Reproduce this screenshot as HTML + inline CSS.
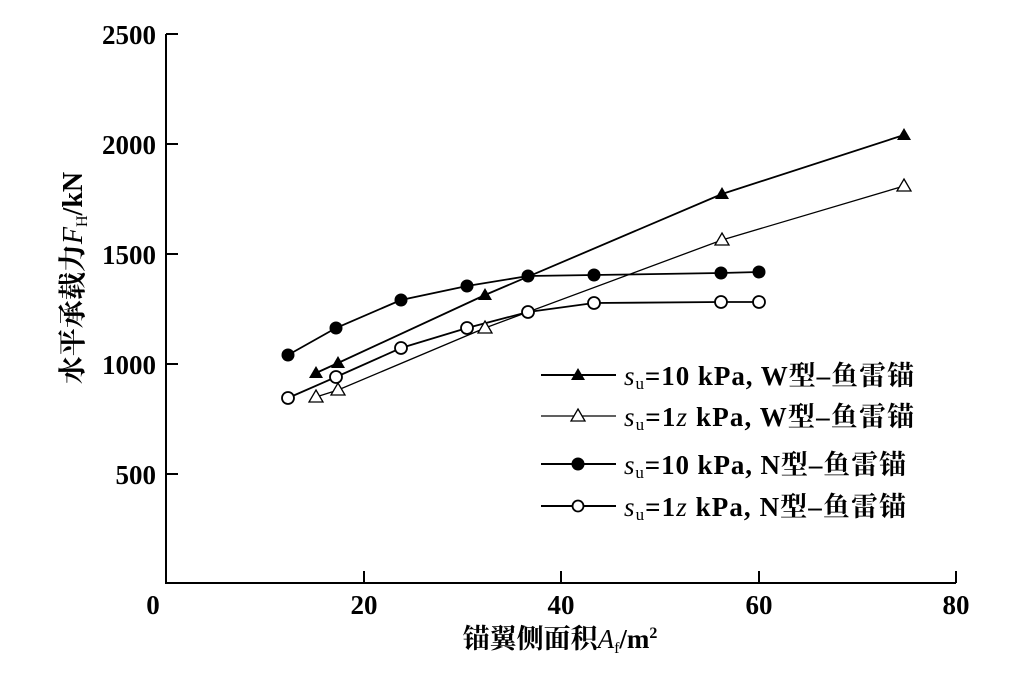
<!DOCTYPE html>
<html><head><meta charset="utf-8"><style>
body{margin:0;background:#fff}
svg text{font-family:"Liberation Serif","Noto Serif CJK SC",serif;font-weight:bold;fill:#000}
</style></head><body>
<svg width="1032" height="679" viewBox="0 0 1032 679" xmlns="http://www.w3.org/2000/svg">
<g stroke="#000" stroke-width="2" fill="none">
<path d="M166 34V583H956"/>
<path d="M166 34h12M166 144h12M166 254h12M166 364h12M166 474h12"/>
<path d="M364 583v-12M561 583v-12M759 583v-12M956 583v-12"/>
</g>
<g font-size="27" text-anchor="end">
<text x="156" y="44">2500</text><text x="156" y="154">2000</text><text x="156" y="264">1500</text><text x="156" y="374">1000</text><text x="156" y="484">500</text>
</g>
<g font-size="27" text-anchor="middle">
<text x="153" y="614">0</text><text x="364" y="614">20</text><text x="561" y="614">40</text><text x="759" y="614">60</text><text x="956" y="614">80</text>
</g>
<text x="560" y="648" font-size="27" text-anchor="middle">锚翼侧面积<tspan font-style="italic" font-weight="normal">A</tspan><tspan font-size="16" dy="5" font-weight="normal">f</tspan><tspan dy="-5">/m</tspan><tspan font-size="16" dy="-10">2</tspan></text>
<text transform="translate(82,278) rotate(-90)" font-size="28" text-anchor="middle">水平承载力<tspan font-style="italic" font-weight="normal">F</tspan><tspan font-size="16" dy="5" font-weight="normal">H</tspan><tspan dy="-5">/kN</tspan></text>
<g stroke="#000" stroke-width="1.8" fill="none">
<polyline points="316,373 338,363 485,295 722,194 904,135"/>
<polyline stroke-width="1.3" points="316,397 338,390 485,328 722,240 904,186"/>
<polyline points="288,355 336,328 401,300 467,286 528,276 594,275 721,273 759,272"/>
<polyline points="288,398 336,377 401,348 467,328 528,312 594,303 721,302 759,302"/>
</g>
<g fill="#000">
<path d="M316,366l7,12h-14z M338,356l7,12h-14z M485,288l7,12h-14z M722,187l7,12h-14z M904,128l7,12h-14z"/>
</g>
<g fill="#fff" stroke="#000" stroke-width="1.3">
<path d="M316,390l7,12h-14z M338,383l7,12h-14z M485,321l7,12h-14z M722,233l7,12h-14z M904,179l7,12h-14z"/>
</g>
<g fill="#000">
<circle cx="288" cy="355" r="6.5"/><circle cx="336" cy="328" r="6.5"/><circle cx="401" cy="300" r="6.5"/><circle cx="467" cy="286" r="6.5"/><circle cx="528" cy="276" r="6.5"/><circle cx="594" cy="275" r="6.5"/><circle cx="721" cy="273" r="6.5"/><circle cx="759" cy="272" r="6.5"/>
</g>
<g fill="#fff" stroke="#000" stroke-width="1.8">
<circle cx="288" cy="398" r="6"/><circle cx="336" cy="377" r="6"/><circle cx="401" cy="348" r="6"/><circle cx="467" cy="328" r="6"/><circle cx="528" cy="312" r="6"/><circle cx="594" cy="303" r="6"/><circle cx="721" cy="302" r="6"/><circle cx="759" cy="302" r="6"/>
</g>
<g stroke="#000" fill="none">
<path stroke-width="2" d="M541 375h75"/><path stroke-width="1.3" d="M541 416h75"/><path stroke-width="2" d="M541 464h75"/><path stroke-width="2" d="M541 506h75"/>
</g>
<path d="M578,368l7,12h-14z" fill="#000"/>
<path d="M578,409l7,12h-14z" fill="#fff" stroke="#000" stroke-width="1.3"/>
<circle cx="578" cy="464" r="6.5" fill="#000"/>
<circle cx="578" cy="506" r="5.5" fill="#fff" stroke="#000" stroke-width="1.8"/>
<g font-size="27">
<text x="624" y="385" textLength="290" lengthAdjust="spacing"><tspan font-style="italic" font-weight="normal">s</tspan><tspan font-size="17" font-weight="normal" dy="4">u</tspan><tspan dy="-4">=10 kPa, W型–鱼雷锚</tspan></text>
<text x="624" y="426" textLength="290" lengthAdjust="spacing"><tspan font-style="italic" font-weight="normal">s</tspan><tspan font-size="17" font-weight="normal" dy="4">u</tspan><tspan dy="-4">=1</tspan><tspan font-style="italic" font-weight="normal">z</tspan><tspan> kPa, W型–鱼雷锚</tspan></text>
<text x="624" y="474" textLength="282" lengthAdjust="spacing"><tspan font-style="italic" font-weight="normal">s</tspan><tspan font-size="17" font-weight="normal" dy="4">u</tspan><tspan dy="-4">=10 kPa, N型–鱼雷锚</tspan></text>
<text x="624" y="516" textLength="282" lengthAdjust="spacing"><tspan font-style="italic" font-weight="normal">s</tspan><tspan font-size="17" font-weight="normal" dy="4">u</tspan><tspan dy="-4">=1</tspan><tspan font-style="italic" font-weight="normal">z</tspan><tspan> kPa, N型–鱼雷锚</tspan></text>
</g>
</svg>
</body></html>
